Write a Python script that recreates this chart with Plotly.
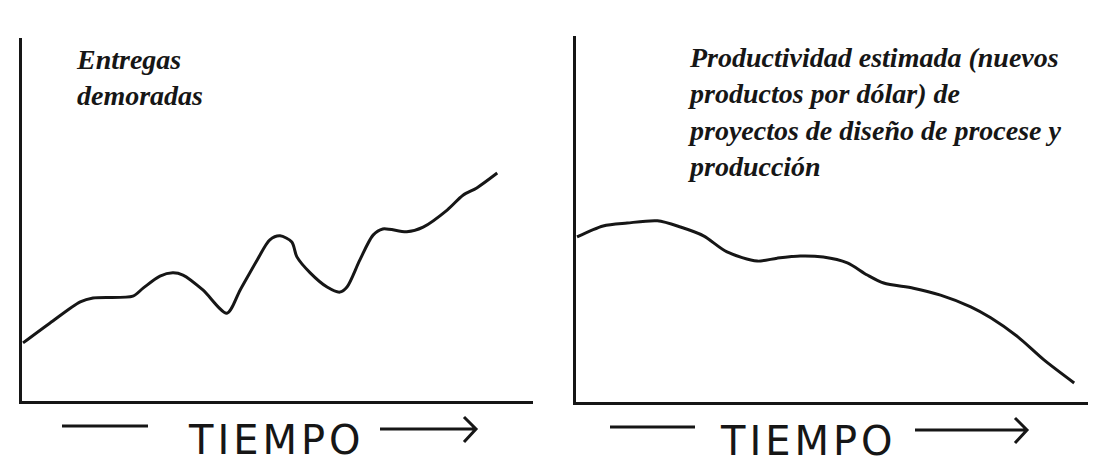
import plotly.graph_objects as go

# left panel: entregas demoradas vs tiempo (arbitrary units 0-100)
tiempo_izq = [0.2, 5.5, 11.4, 13.9, 21.7, 23.7, 27.0, 29.5, 31.5, 35.4, 40.1, 42.7, 46.0, 48.5,
              50.5, 52.8, 53.8, 56.4, 59.7, 62.2, 63.6, 66.1, 68.7, 70.6, 75.3, 78.5, 83.2,
              86.3, 89.0, 93.0]
entregas = [16.0, 21.5, 27.3, 28.4, 28.9, 31.1, 34.4, 35.3, 34.7, 30.6, 24.2, 30.6, 38.8, 44.4,
            45.5, 43.8, 39.7, 35.3, 31.4, 30.0, 31.4, 38.8, 45.7, 47.4, 46.6, 47.9, 52.6,
            56.7, 58.7, 62.8]

# right panel: productividad estimada vs tiempo
tiempo_der = [0.2, 5.3, 10.0, 15.9, 20.4, 24.9, 29.5, 35.4, 39.3, 43.8, 48.3, 53.0, 56.9, 60.1,
              65.9, 71.2, 77.1, 81.0, 86.3, 91.4, 97.3]
productividad = [45.1, 48.1, 48.9, 49.5, 47.8, 45.4, 41.0, 38.5, 39.3, 39.9, 39.6, 38.0, 34.7,
                 32.5, 31.1, 29.2, 26.0, 23.0, 17.8, 11.5, 5.2]

titulo_izq = "Entregas<br>demoradas"
titulo_der = ("Productividad estimada (nuevos<br>productos por dólar) de<br>"
              "proyectos de diseño de procese y<br>producción")
eje_x = "T\u200aI\u200aE\u200aM\u200aP\u200aO"

# the page puts the figure 8px in from the corner, so work in window pixels minus that
OFF = 8
W, H = 1113 - OFF, 473 - OFF
INK = "#161616"
HAND = "Liberation Serif, DejaVu Serif, serif"
CAPS = "DejaVu Sans, sans-serif"

def px(x):
    return (x - OFF) / W

def py(y):
    return 1 - (y - OFF) / H

fig = go.Figure()
fig.add_trace(go.Scatter(x=tiempo_izq, y=entregas, mode="lines",
                         line=dict(color=INK, width=3, shape="spline", smoothing=0.8),
                         xaxis="x", yaxis="y", hoverinfo="skip"))
fig.add_trace(go.Scatter(x=tiempo_der, y=productividad, mode="lines",
                         line=dict(color=INK, width=3, shape="spline", smoothing=0.8),
                         xaxis="x2", yaxis="y2", hoverinfo="skip"))

ax = dict(showline=True, linecolor=INK, linewidth=3, showgrid=False, zeroline=False,
          showticklabels=False, ticks="", range=[0, 100], fixedrange=True)
fig.update_layout(
    width=W, height=H, margin=dict(l=0, r=0, t=0, b=0),
    paper_bgcolor="white", plot_bgcolor="white", showlegend=False,
    xaxis=dict(ax, domain=[px(22), px(533)], anchor="y"),
    yaxis=dict(ax, domain=[py(401), py(38)], anchor="x"),
    xaxis2=dict(ax, domain=[px(576), px(1088)], anchor="y2"),
    yaxis2=dict(ax, domain=[py(402), py(36)], anchor="x2"),
)

notes = [
    dict(text=titulo_izq, x=px(74), y=py(42)),
    dict(text=titulo_der, x=px(686), y=py(40)),
]
for n in notes:
    fig.add_annotation(xref="paper", yref="paper", xanchor="left", yanchor="top",
                       align="left", showarrow=False,
                       font=dict(family=HAND, size=28, color=INK, weight="bold", style="italic"),
                       **n)

# TIEMPO labels with the dash and arrow around them
for cx, cy, l0, l1, a0, a1 in [(274, 440, 62, 148, 380, 476), (806, 441, 610, 695, 915, 1027)]:
    fig.add_annotation(xref="paper", yref="paper", x=px(cx), y=py(cy), text=eje_x,
                       showarrow=False, xanchor="center", yanchor="middle",
                       font=dict(family=CAPS, size=40, color=INK))
    ly = cy - 14
    fig.add_shape(type="line", xref="paper", yref="paper", x0=px(l0), x1=px(l1),
                  y0=py(ly), y1=py(ly), line=dict(color=INK, width=3))
    ay = cy - 11
    fig.add_shape(type="path", xref="paper", yref="paper",
                  path="M %f,%f L %f,%f M %f,%f L %f,%f L %f,%f" % (
                      px(a0), py(ay), px(a1), py(ay),
                      px(a1 - 12), py(ay - 12), px(a1), py(ay), px(a1 - 12), py(ay + 13)),
                  line=dict(color=INK, width=3))

fig.write_html("out.html")
